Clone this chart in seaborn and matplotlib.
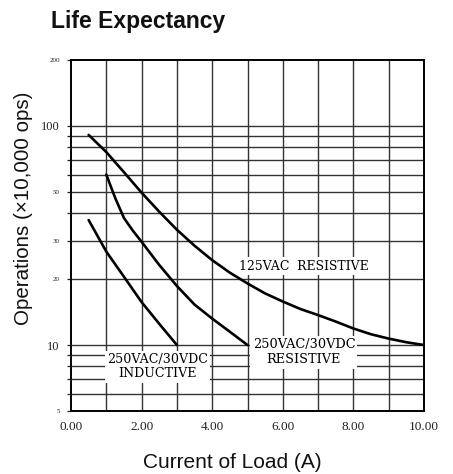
import matplotlib
matplotlib.use("Agg")
import matplotlib.pyplot as plt
import seaborn as sns
import pandas as pd
from matplotlib.ticker import FixedLocator, NullFormatter

# ---- data ----
x_125 = [0.5, 1.0, 1.5, 2.0, 2.5, 3.0, 3.5, 4.0, 4.5, 5.0, 5.5, 6.0, 6.5, 7.0, 7.5, 8.0, 8.5, 9.0, 9.5, 10.0]
y_125 = [91, 76, 61.5, 49.6, 40.6, 33.6, 28.4, 24.4, 21.4, 19.1, 17.2, 15.8, 14.6, 13.7, 12.8, 11.9, 11.2, 10.7, 10.3, 10.0]
x_res = [1.0, 1.25, 1.5, 1.75, 2.0, 2.5, 3.0, 3.5, 4.0, 4.5, 5.0]
y_res = [60, 47, 38, 33.3, 29.6, 23.2, 18.6, 15.3, 13.2, 11.5, 10.0]
x_ind = [0.5, 1.0, 1.5, 2.0, 2.5, 3.0]
y_ind = [37.2, 26.7, 20.5, 15.7, 12.5, 10.0]

x_ticks = [0, 2, 4, 6, 8, 10]
x_ticklabels = ["0.00", "2.00", "4.00", "6.00", "8.00", "10.00"]
y_ticks = [5, 10, 20, 30, 50, 100, 200]
y_ticklabels = ["5", "10", "20", "30", "50", "100", "200"]
y_minor = [6, 7, 8, 9, 40, 60, 70, 80, 90]
x_grid = [1, 2, 3, 4, 5, 6, 7, 8, 9]

title = "Life Expectancy"
xlabel = "Current of Load (A)"
ylabel = "Operations (\u00d710,000 ops)"
lab_125 = "125VAC  RESISTIVE"
lab_res = "250VAC/30VDC\nRESISTIVE"
lab_ind = "250VAC/30VDC\nINDUCTIVE"

df = pd.concat([
    pd.DataFrame({"x": x_125, "y": y_125, "s": "125"}),
    pd.DataFrame({"x": x_res, "y": y_res, "s": "res"}),
    pd.DataFrame({"x": x_ind, "y": y_ind, "s": "ind"}),
])

sns.set_theme(style="white")
plt.rcParams["font.family"] = ["Liberation Sans", "DejaVu Sans"]

W, H = 453, 474
fig = plt.figure(figsize=(W / 100, H / 100), dpi=100)
ax = fig.add_axes([71 / W, 1 - 411 / H, (424 - 71) / W, (411 - 60) / H])

ax.set_yscale("log")
ax.set_xlim(0, 10)
ax.set_ylim(5, 200)

# grid
for gx in x_grid:
    ax.axvline(gx, color="#333333", lw=1.0, zorder=1)
for gy in y_minor + [10, 20, 30, 50, 100]:
    ax.axhline(gy, color="#333333", lw=1.0, zorder=1)

sns.lineplot(data=df, x="x", y="y", units="s", estimator=None, color="black",
             lw=1.9, ax=ax, zorder=3, sort=False)

ax.xaxis.set_major_locator(FixedLocator(x_ticks))
ax.set_xticklabels(x_ticklabels)
ax.yaxis.set_major_locator(FixedLocator(y_ticks))
ax.yaxis.set_minor_locator(FixedLocator(y_minor))
ax.yaxis.set_minor_formatter(NullFormatter())
ax.set_yticklabels(y_ticklabels)
ax.tick_params(axis="x", length=0, pad=7)
ax.tick_params(axis="y", which="both", left=True, length=3, width=0.9, color="#222222", pad=5)
for lbl in ax.get_xticklabels():
    lbl.set_fontfamily("Liberation Serif")
    lbl.set_fontsize(9.5)
    lbl.set_color("#222222")
for lbl in ax.get_yticklabels():
    lbl.set_fontfamily("Liberation Serif")
    lbl.set_color("#222222")
    lbl.set_fontsize(9 if lbl.get_text() in ("10", "100") else 5)
ax.set_xlabel("")
ax.set_ylabel("")

for sp in ax.spines.values():
    sp.set_color("black")
    sp.set_linewidth(1.4)
    sp.set_visible(True)

box = dict(facecolor="white", edgecolor="none", pad=1.6)
ax.text(6.6, 22.9, lab_125, ha="center", va="center", bbox=box,
        family="DejaVu Serif", size=8.9, color="black", zorder=2)
ax.text(6.6, 9.25, lab_res, ha="center", va="center", bbox=box, linespacing=1.2,
        family="DejaVu Serif", size=9.3, color="black", zorder=2)
ax.text(2.45, 7.95, lab_ind, ha="center", va="center", bbox=box, linespacing=1.1,
        family="DejaVu Serif", size=9.1, color="black", zorder=2)

fig.text(51 / W, 1 - 28 / H, title, ha="left", va="baseline", fontsize=16.5,
         fontweight="bold", color="#111111")
fig.text(232 / W, 1 - 463 / H, xlabel, ha="center", va="center", fontsize=15, color="#111111")
fig.text(23.5 / W, 1 - 208 / H, ylabel, ha="center", va="center", rotation=90,
         fontsize=14.8, color="#111111")

fig.savefig("out.png", dpi=100)
